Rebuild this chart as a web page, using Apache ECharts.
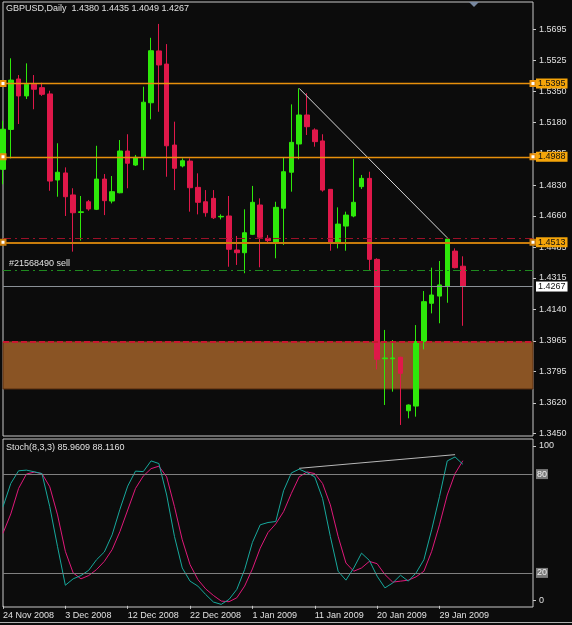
<!DOCTYPE html>
<html>
<head>
<meta charset="utf-8">
<title>GBPUSD Daily</title>
<script src="https://cdn.jsdelivr.net/npm/echarts@6/dist/echarts.min.js"></script>
<style>
  html, body { margin: 0; padding: 0; background: #0c0c0c; }
  #chart { width: 572px; height: 625px; }
</style>
</head>
<body>
<div id="chart"></div>
<script>
// bar dates (MT4 daily, with Sunday bars)
var dates = [
  '24 Nov 2008', '25 Nov 2008', '26 Nov 2008', '27 Nov 2008', '28 Nov 2008', '30 Nov 2008', '1 Dec 2008', '2 Dec 2008',
  '3 Dec 2008', '4 Dec 2008', '5 Dec 2008', '7 Dec 2008', '8 Dec 2008', '9 Dec 2008', '10 Dec 2008', '11 Dec 2008',
  '12 Dec 2008', '14 Dec 2008', '15 Dec 2008', '16 Dec 2008', '17 Dec 2008', '18 Dec 2008', '19 Dec 2008', '21 Dec 2008',
  '22 Dec 2008', '23 Dec 2008', '24 Dec 2008', '26 Dec 2008', '28 Dec 2008', '29 Dec 2008', '30 Dec 2008', '31 Dec 2008',
  '1 Jan 2009', '2 Jan 2009', '4 Jan 2009', '5 Jan 2009', '6 Jan 2009', '7 Jan 2009', '8 Jan 2009', '9 Jan 2009',
  '11 Jan 2009', '12 Jan 2009', '13 Jan 2009', '14 Jan 2009', '15 Jan 2009', '16 Jan 2009', '18 Jan 2009', '19 Jan 2009',
  '20 Jan 2009', '21 Jan 2009', '22 Jan 2009', '23 Jan 2009', '25 Jan 2009', '26 Jan 2009', '27 Jan 2009', '28 Jan 2009',
  '29 Jan 2009', '30 Jan 2009', '1 Feb 2009', '2 Feb 2009'
];

var opens = [
  1.4918, 1.5140, 1.5420, 1.5326, 1.5391, 1.5372, 1.5337, 1.4859, 1.4898, 1.4776,
  1.4679, 1.4738, 1.4696, 1.4864, 1.4742, 1.4788, 1.5020, 1.4942, 1.4988, 1.5288,
  1.5576, 1.5503, 1.5053, 1.4937, 1.4964, 1.4818, 1.4738, 1.4757, 1.4654, 1.4659,
  1.4470, 1.4455, 1.4557, 1.4720, 1.4535, 1.4511, 1.4702, 1.4902, 1.5059, 1.5220,
  1.5137, 1.5076, 1.4807, 1.4511, 1.4603, 1.4659, 1.4822, 1.4868, 1.4418, 1.3866,
  1.3866, 1.3874, 1.3577, 1.3603, 1.3961, 1.4174, 1.4214, 1.4270, 1.4464, 1.4380
];
var highs = [
  1.5188, 1.5535, 1.5442, 1.5507, 1.5442, 1.5399, 1.5355, 1.5063, 1.4929, 1.4813,
  1.4770, 1.4748, 1.5049, 1.4892, 1.4881, 1.5081, 1.5113, 1.4998, 1.5377, 1.5649,
  1.5726, 1.5614, 1.5183, 1.4979, 1.4979, 1.4896, 1.4803, 1.4803, 1.4668, 1.4770,
  1.4548, 1.4696, 1.4826, 1.4757, 1.4553, 1.4738, 1.4985, 1.5279, 1.5368, 1.5341,
  1.5146, 1.5113, 1.4809, 1.4707, 1.4683, 1.4976, 1.4887, 1.4905, 1.4424, 1.4026,
  1.3970, 1.3877, 1.3612, 1.4053, 1.4242, 1.4372, 1.4409, 1.4538, 1.4479, 1.4435
];
var lows = [
  1.4835, 1.4979, 1.5170, 1.5309, 1.5252, 1.5326, 1.4799, 1.4766, 1.4659, 1.4461,
  1.4522, 1.4688, 1.4692, 1.4664, 1.4729, 1.4785, 1.4813, 1.4937, 1.4914, 1.5196,
  1.5238, 1.4877, 1.4803, 1.4929, 1.4683, 1.4668, 1.4655, 1.4642, 1.4640, 1.4377,
  1.4387, 1.4341, 1.4553, 1.4374, 1.4507, 1.4424, 1.4498, 1.4794, 1.4974, 1.5109,
  1.5044, 1.4794, 1.4466, 1.4479, 1.4466, 1.4652, 1.4809, 1.4359, 1.3807, 1.3609,
  1.3683, 1.3498, 1.3535, 1.3544, 1.3918, 1.4118, 1.4063, 1.4177, 1.4368, 1.4049
];
var closes = [
  1.5141, 1.5414, 1.5326, 1.5391, 1.5363, 1.5335, 1.4853, 1.4902, 1.4766, 1.4677,
  1.4682, 1.4698, 1.4864, 1.4744, 1.4794, 1.5020, 1.4952, 1.4985, 1.5291, 1.5577,
  1.5498, 1.5049, 1.4924, 1.4966, 1.4816, 1.4735, 1.4677, 1.4649, 1.4657, 1.4474,
  1.4455, 1.4566, 1.4735, 1.4541, 1.4522, 1.4707, 1.4905, 1.5068, 1.5220, 1.5155,
  1.5072, 1.4803, 1.4507, 1.4614, 1.4664, 1.4735, 1.4868, 1.4418, 1.3863, 1.3870,
  1.3870, 1.3785, 1.3609, 1.3961, 1.4183, 1.4220, 1.4276, 1.4531, 1.4372, 1.4267
];

// Stochastic(8,3,3)
var stochMain = [
  60.2, 74.3, 82.0, 82.4, 81.4, 80.3, 60.2, 35.9, 12.5, 16.4,
  18.4, 21.6, 28.0, 32.7, 43.1, 58.6, 72.7, 81.8, 81.5, 88.0,
  86.4, 67.3, 42.1, 23.0, 15.0, 12.0, 6.9, 2.3, 0.9, 3.9,
  10.0, 22.0, 38.5, 49.2, 50.6, 51.2, 69.9, 80.7, 83.0, 80.9,
  78.3, 65.2, 42.1, 21.0, 15.6, 23.0, 32.0, 27.6, 18.0, 10.9,
  13.9, 18.6, 15.0, 20.0, 28.0, 46.2, 66.3, 88.0, 90.4, 85.9609
];
var stochSignal = [
  44.1, 55.8, 71.3, 80.0, 81.2, 80.3, 72.3, 55.2, 33.1, 20.0,
  16.4, 18.4, 22.0, 27.0, 34.1, 45.1, 58.2, 71.3, 78.8, 83.3,
  84.8, 78.3, 60.2, 40.1, 25.0, 16.0, 10.3, 6.3, 2.9, 2.5,
  4.9, 12.0, 22.4, 35.0, 44.5, 49.8, 57.2, 68.3, 78.3, 81.3,
  80.3, 74.3, 61.3, 42.1, 26.0, 21.0, 23.0, 27.0, 25.6, 19.0,
  14.4, 15.0, 15.6, 17.6, 21.0, 33.1, 49.2, 67.3, 80.3, 88.1160
];

// price axis ticks as printed by the terminal
var priceTicks = [1.5695, 1.5525, 1.5350, 1.5180, 1.5005, 1.4830, 1.4660, 1.4485, 1.4315, 1.4140, 1.3965, 1.3795, 1.3620, 1.3450];
var stochTicks = [0, 100];
var stochLevels = [80, 20];

// drawn objects
var hLevels = [1.5395, 1.4988, 1.4513];
var redLevel = 1.4533;
var sellLevel = 1.4359;
var sellTicket = '#21568490 sell';
var bidPrice = 1.4267;
var zoneTop = 1.3961, zoneBottom = 1.3698;
var trendFrom = 38, trendTo = 57;
var stochTrend = [[38, 83.5], [58, 91.8]];

var FONT = 'Liberation Sans';
var TXT = '#e0e0e0';
var UP = '#2ee80a', DOWN = '#e0184a';
var ORANGE = '#e8900c';
var last = dates.length - 1;

var cats = dates.concat(new Array(69 - dates.length).fill(''));
var candles = dates.map(function (d, i) { return [opens[i], closes[i], lows[i], highs[i]]; });

function boxLabel(text, bg) {
  return {
    show: true, position: 'end', distance: 3, formatter: text,
    backgroundColor: bg, color: '#111', padding: [1, 2, 0, 2],
    fontSize: 9, fontFamily: FONT
  };
}

// orange horizontal lines, kept in their own marker layer
var levelLines = hLevels.map(function (v, k) {
  return {
    yAxis: v,
    lineStyle: { color: k === 2 ? '#c87c0c' : ORANGE, width: k === 2 ? 2 : 1.3 },
    label: boxLabel(v.toFixed(4), '#f5a50a')
  };
});

var mainLines = [];
mainLines.push({
  yAxis: redLevel, lineStyle: { color: '#9c1028', width: 1, type: [8, 4, 2, 4] }, label: { show: false }
});
mainLines.push({
  yAxis: sellLevel, lineStyle: { color: '#1f8a1f', width: 1, type: [8, 4, 2, 4] },
  label: { show: true, position: 'insideStartTop', distance: 2, padding: [0, 0, 0, 4], formatter: sellTicket, color: TXT, fontSize: 9, fontFamily: FONT }
});
mainLines.push({
  yAxis: bidPrice, lineStyle: { color: '#8a9096', width: 1, type: 'solid' },
  label: boxLabel(bidPrice.toFixed(4), '#ffffff')
});
mainLines.push({
  yAxis: zoneTop, lineStyle: { color: '#c81830', width: 2, type: [6, 3] }, label: { show: false }
});
mainLines.push([
  { coord: [trendFrom, highs[trendFrom]] },
  { coord: [trendTo, highs[trendTo]], lineStyle: { color: '#d8d8d8', width: 1, type: 'solid' }, label: { show: false } }
]);

var stochLines = stochLevels.map(function (v) {
  return {
    yAxis: v, lineStyle: { color: '#808080', width: 1, type: 'solid' },
    label: { show: true, position: 'end', distance: 3, formatter: String(v), backgroundColor: '#7a7a7a', color: '#f0f0f0', padding: [1, 1, 0, 1], fontSize: 9, fontFamily: FONT }
  };
});
stochLines.push([
  { coord: stochTrend[0] },
  { coord: stochTrend[1], lineStyle: { color: '#b8b8b8', width: 1, type: 'solid' }, label: { show: false } }
]);

var labelStyle = { color: TXT, fontSize: 9, fontFamily: FONT };

var option = {
  backgroundColor: '#0c0c0c',
  animation: false,
  title: [
    {
      text: 'GBPUSD,Daily  ' + [opens[last], highs[last], lows[last], closes[last]].map(function (v) { return v.toFixed(4); }).join(' '),
      left: 6, top: 4, padding: 0,
      textStyle: { color: TXT, fontSize: 9, fontWeight: 'normal', fontFamily: FONT }
    },
    {
      text: 'Stoch(8,3,3) ' + stochMain[last].toFixed(4) + ' ' + stochSignal[last].toFixed(4),
      left: 6, top: 443, padding: 0,
      textStyle: { color: TXT, fontSize: 9, fontWeight: 'normal', fontFamily: FONT }
    }
  ],
  grid: [
    { left: 3, top: 2, width: 530, height: 434, show: true, borderColor: '#c8c8c8', borderWidth: 1, backgroundColor: '#0c0c0c' },
    { left: 3, top: 439, width: 530, height: 168, show: true, borderColor: '#c8c8c8', borderWidth: 1, backgroundColor: '#0c0c0c' }
  ],
  xAxis: [
    {
      type: 'category', gridIndex: 0, data: cats, boundaryGap: false,
      axisLine: { show: false }, axisTick: { show: false }, axisLabel: { show: false }, splitLine: { show: false }
    },
    {
      type: 'category', gridIndex: 1, data: cats, boundaryGap: false,
      axisLine: { show: false },
      axisTick: {
        show: true, length: 3, lineStyle: { color: '#c8c8c8' },
        interval: function (i) { return i % 8 === 0 && i <= last; }
      },
      axisLabel: Object.assign({
        interval: function (i) { return i % 8 === 0 && i <= last; },
        align: 'left', margin: 4
      }, labelStyle),
      splitLine: { show: false }
    }
  ],
  yAxis: [
    {
      type: 'value', gridIndex: 0, position: 'right', min: 1.34367, max: 1.58478,
      splitLine: { show: false }, axisLine: { show: false },
      axisTick: { show: true, length: 3, lineStyle: { color: '#c8c8c8' }, customValues: priceTicks },
      axisLabel: Object.assign({ customValues: priceTicks, margin: 6, formatter: function (v) { return v.toFixed(4); } }, labelStyle)
    },
    {
      type: 'value', gridIndex: 1, min: -0.7, max: 101.3, show: false
    },
    {
      type: 'value', gridIndex: 1, position: 'right', min: -4.5, max: 104.5,
      splitLine: { show: false }, axisLine: { show: false },
      axisTick: { show: true, length: 3, lineStyle: { color: '#c8c8c8' }, customValues: stochTicks },
      axisLabel: Object.assign({ customValues: stochTicks, margin: 6 }, labelStyle)
    }
  ],
  graphic: [
    { type: 'polygon', shape: { points: [[469, 2], [479, 2], [474, 7]] }, style: { fill: '#7888a0' }, z: 10 },
    { type: 'rect', shape: { x: 0, y: 622, width: 572, height: 1 }, style: { fill: '#b0b0b0' }, z: 10 }
  ],
  series: [
    {
      name: 'zone', type: 'line', xAxisIndex: 0, yAxisIndex: 0, data: [], z: 1, silent: true,
      markArea: {
        silent: true, precision: 4,
        itemStyle: { color: '#8a5424', borderColor: '#5a2e10', borderWidth: 1 },
        data: [[{ yAxis: zoneTop }, { yAxis: zoneBottom }]]
      }
    },
    {
      name: 'GBPUSD', type: 'candlestick', xAxisIndex: 0, yAxisIndex: 0, z: 3,
      data: candles, barWidth: 5, clip: true,
      itemStyle: { color: UP, color0: DOWN, borderColor: UP, borderColor0: DOWN, borderWidth: 1 },
      markLine: { silent: true, symbol: 'none', precision: 4, animation: false, data: mainLines }
    },
    {
      name: 'levels', type: 'line', xAxisIndex: 0, yAxisIndex: 0, data: [], z: 4, silent: true,
      color: ORANGE,
      markLine: {
        silent: true, precision: 4, animation: false,
        symbol: ['emptyRect', 'emptyRect'], symbolSize: 5,
        lineStyle: { color: ORANGE, type: 'solid' },
        data: levelLines
      }
    },
    {
      name: 'Main', type: 'line', xAxisIndex: 1, yAxisIndex: 1, data: stochMain,
      symbol: 'none', lineStyle: { color: '#17a89c', width: 1 }, z: 3,
      markLine: { silent: true, symbol: 'none', precision: 4, animation: false, data: stochLines }
    },
    {
      name: 'Signal', type: 'line', xAxisIndex: 1, yAxisIndex: 1, data: stochSignal,
      symbol: 'none', lineStyle: { color: '#e0187a', width: 1 }, z: 2
    }
  ]
};

var myChart = echarts.init(document.getElementById('chart'));
myChart.setOption(option);
</script>
</body>
</html>
